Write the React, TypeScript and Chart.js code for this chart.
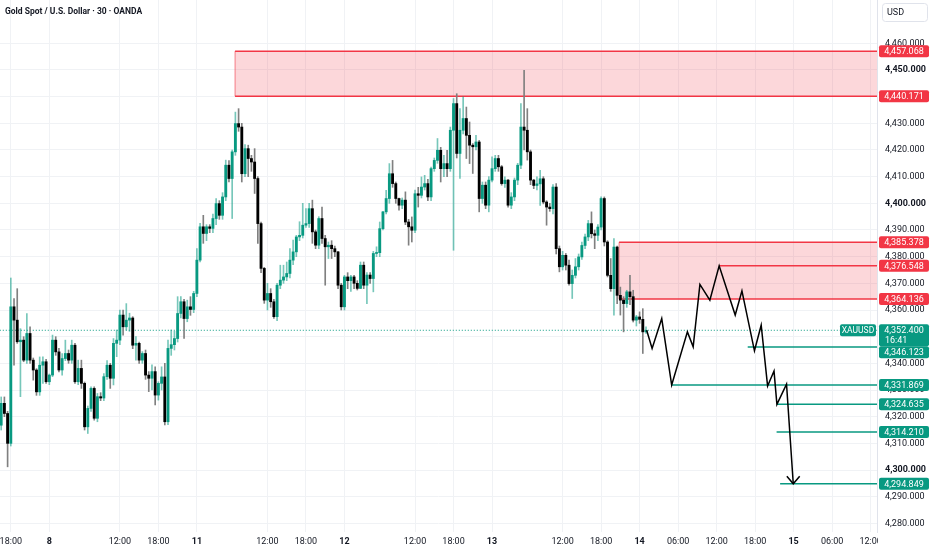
import React, { useEffect, useRef } from "react";
import { Chart, registerables } from "chart.js";

Chart.register(...registerables);

// ---------- data ----------
const TITLE = "Gold Spot / U.S. Dollar · 30 · OANDA";
const SYMBOL = "XAUUSD";
const CURRENCY = "USD";
const COUNTDOWN = "16:41";
const LAST_PRICE = 4352.4;

// first candle sits on half-hour slot -15 (slot 0 = first bar of day "8")
const FIRST_SLOT = -15;

const OPEN = [
  4316.8, 4325.0, 4321.2, 4310.0, 4361.2, 4356.2, 4348.1, 4348.7, 4341.2, 4351.2,
  4341.2, 4337.5, 4329.3, 4339.3, 4340.6, 4333.1, 4335.6, 4348.7, 4344.3, 4337.5,
  4341.8, 4343.7, 4341.2, 4346.8, 4333.1, 4338.1, 4332.5, 4316.2, 4323.1, 4330.6,
  4319.4, 4327.5, 4327.0, 4335.0, 4339.3, 4334.4, 4347.5, 4348.7, 4358.1, 4353.7,
  4356.2, 4357.0, 4346.8, 4347.5, 4341.2, 4343.7, 4335.6, 4334.4, 4336.9, 4328.1,
  4332.5, 4334.9, 4318.1, 4345.6, 4347.0, 4349.3, 4358.7, 4363.1, 4356.8, 4361.2,
  4360.2, 4366.2, 4378.7, 4391.2, 4388.7, 4391.2, 4390.6, 4394.3, 4399.9, 4395.5,
  4402.4, 4414.3, 4409.3, 4419.3, 4429.9, 4428.6, 4411.1, 4420.5, 4416.8, 4415.5,
  4409.3, 4392.4, 4375.6, 4363.7, 4366.2, 4363.1, 4357.5, 4369.3, 4371.2, 4372.4,
  4373.7, 4378.7, 4381.8, 4387.4, 4388.0, 4391.8, 4392.4, 4398.0, 4389.3, 4384.3,
  4394.3, 4386.8, 4383.7, 4384.3, 4383.0, 4381.8, 4369.3, 4361.2, 4372.4, 4371.0,
  4372.4, 4370.0, 4368.1, 4376.8, 4369.3, 4373.1, 4371.8, 4381.2, 4381.5, 4390.5,
  4396.8, 4401.8, 4411.1, 4407.4, 4401.8, 4399.3, 4401.2, 4393.0, 4391.2, 4389.9,
  4403.6, 4403.0, 4406.1, 4407.4, 4402.4, 4413.0, 4416.1, 4419.9, 4413.0, 4414.9,
  4413.0, 4427.4, 4437.4, 4418.7, 4427.4, 4431.8, 4425.5, 4421.8, 4421.2, 4423.0,
  4401.8, 4406.8, 4399.3, 4408.7, 4413.0, 4416.8, 4413.7, 4407.4, 4408.7, 4399.3,
  4402.4, 4408.7, 4414.3, 4428.6, 4427.4, 4419.3, 4408.7, 4406.7, 4407.3, 4409.2,
  4400.5, 4398.6, 4398.0, 4406.1, 4383.0, 4376.2, 4380.5, 4376.8, 4369.9, 4373.0,
  4376.2, 4379.9, 4384.2, 4387.4, 4392.4, 4388.6, 4388.0, 4391.1, 4401.8, 4385.5,
  4373.0, 4368.0, 4383.6, 4365.5, 4363.7, 4362.4, 4366.8, 4365.0, 4356.2, 4357.4,
  4356.5, 4351.8,
];
const HIGH = [
  4327.4, 4327.4, 4322.0, 4372.0, 4364.3, 4368.0, 4353.0, 4350.0, 4358.7, 4353.7,
  4342.0, 4338.0, 4342.4, 4342.4, 4341.5, 4336.0, 4350.6, 4350.0, 4345.6, 4343.7,
  4348.7, 4345.0, 4348.7, 4347.5, 4341.2, 4341.2, 4333.0, 4324.0, 4331.2, 4331.2,
  4328.7, 4329.0, 4336.2, 4341.0, 4340.0, 4349.3, 4352.5, 4360.0, 4360.0, 4362.4,
  4358.8, 4357.5, 4350.0, 4348.0, 4344.4, 4345.0, 4336.9, 4339.4, 4338.7, 4333.1,
  4338.7, 4340.0, 4348.7, 4352.5, 4352.0, 4365.0, 4365.0, 4364.0, 4363.7, 4365.0,
  4367.0, 4383.0, 4392.5, 4395.5, 4392.0, 4392.0, 4396.0, 4401.8, 4401.0, 4404.0,
  4416.2, 4416.0, 4420.0, 4434.2, 4435.5, 4430.0, 4422.0, 4421.8, 4418.0, 4420.5,
  4410.0, 4393.0, 4376.0, 4370.0, 4368.0, 4364.0, 4370.0, 4376.8, 4376.8, 4378.0,
  4383.0, 4386.2, 4388.0, 4393.1, 4400.0, 4398.0, 4400.0, 4401.2, 4390.0, 4395.0,
  4398.6, 4388.0, 4385.5, 4386.0, 4384.0, 4382.0, 4370.0, 4373.0, 4374.0, 4373.0,
  4373.0, 4371.0, 4378.0, 4378.0, 4374.0, 4374.0, 4382.0, 4383.7, 4393.0, 4397.0,
  4404.9, 4414.9, 4416.1, 4408.0, 4402.0, 4402.0, 4404.3, 4394.0, 4394.9, 4405.0,
  4406.0, 4409.9, 4410.5, 4409.0, 4413.6, 4417.0, 4424.3, 4421.0, 4418.0, 4419.9,
  4428.6, 4439.3, 4441.1, 4435.5, 4439.9, 4436.1, 4430.5, 4422.4, 4425.5, 4423.6,
  4408.0, 4408.0, 4410.0, 4417.4, 4418.0, 4418.0, 4414.2, 4409.9, 4409.0, 4404.0,
  4409.5, 4415.0, 4437.4, 4449.9, 4435.5, 4420.0, 4409.0, 4409.9, 4412.4, 4410.0,
  4401.0, 4400.0, 4407.0, 4407.4, 4384.0, 4382.0, 4381.2, 4378.7, 4375.0, 4379.3,
  4381.0, 4385.5, 4388.5, 4393.6, 4396.8, 4390.0, 4392.0, 4402.4, 4402.4, 4386.0,
  4379.3, 4386.8, 4384.0, 4368.6, 4365.0, 4367.4, 4373.0, 4367.4, 4358.0, 4359.3,
  4360.5, 4353.7,
];
const LOW = [
  4315.0, 4320.0, 4301.2, 4309.0, 4339.3, 4347.5, 4327.5, 4340.6, 4340.0, 4340.0,
  4333.7, 4328.0, 4328.0, 4332.5, 4332.5, 4332.0, 4335.0, 4343.0, 4336.8, 4335.6,
  4341.0, 4340.0, 4340.0, 4332.5, 4332.0, 4330.6, 4315.0, 4313.7, 4322.0, 4318.7,
  4318.1, 4326.0, 4326.0, 4334.0, 4330.6, 4331.9, 4342.5, 4347.0, 4350.6, 4352.5,
  4352.0, 4345.5, 4341.2, 4340.0, 4340.0, 4334.0, 4329.4, 4330.0, 4324.4, 4326.2,
  4330.0, 4316.9, 4317.0, 4343.0, 4345.0, 4348.0, 4357.0, 4349.3, 4355.6, 4358.0,
  4359.0, 4365.0, 4378.0, 4385.0, 4386.0, 4389.0, 4389.0, 4392.0, 4394.0, 4394.0,
  4401.0, 4408.0, 4394.3, 4418.0, 4427.0, 4408.0, 4410.0, 4410.0, 4412.0, 4403.7,
  4385.0, 4374.0, 4362.5, 4360.0, 4361.0, 4356.8, 4356.0, 4368.0, 4370.0, 4371.0,
  4372.0, 4377.0, 4380.0, 4386.0, 4387.0, 4391.0, 4391.0, 4385.0, 4383.0, 4383.0,
  4385.0, 4369.3, 4379.3, 4379.3, 4380.0, 4368.0, 4360.0, 4360.0, 4368.0, 4367.0,
  4368.0, 4367.5, 4368.0, 4368.0, 4362.4, 4370.0, 4366.8, 4380.0, 4380.0, 4390.0,
  4396.0, 4400.0, 4406.0, 4400.0, 4397.4, 4398.0, 4392.0, 4384.3, 4385.5, 4389.0,
  4398.6, 4402.0, 4405.0, 4401.0, 4401.0, 4412.0, 4415.0, 4408.0, 4410.0, 4410.0,
  4412.0, 4382.4, 4417.0, 4409.3, 4426.0, 4416.8, 4414.9, 4411.2, 4420.0, 4396.8,
  4400.0, 4398.0, 4396.8, 4408.0, 4412.0, 4412.0, 4406.8, 4406.0, 4398.6, 4398.0,
  4401.0, 4407.0, 4413.0, 4420.0, 4416.2, 4407.0, 4405.5, 4405.0, 4399.2, 4399.8,
  4391.8, 4397.0, 4396.0, 4381.0, 4374.3, 4375.0, 4375.0, 4369.3, 4364.3, 4372.0,
  4375.0, 4379.0, 4383.0, 4386.0, 4387.0, 4383.0, 4386.0, 4390.0, 4384.0, 4372.4,
  4367.0, 4358.1, 4362.4, 4358.1, 4351.8, 4361.0, 4362.0, 4355.5, 4354.0, 4355.0,
  4343.7, 4351.2,
];
const CLOSE = [
  4325.0, 4321.2, 4310.0, 4361.2, 4356.2, 4348.1, 4348.7, 4341.2, 4351.2, 4341.2,
  4337.5, 4329.3, 4339.3, 4340.6, 4333.1, 4335.6, 4348.7, 4344.3, 4337.5, 4341.8,
  4343.7, 4341.2, 4346.8, 4333.1, 4338.1, 4332.5, 4316.2, 4323.1, 4330.6, 4319.4,
  4327.5, 4327.0, 4335.0, 4339.3, 4334.4, 4347.5, 4348.7, 4358.1, 4353.7, 4356.2,
  4357.0, 4346.8, 4347.5, 4341.2, 4343.7, 4335.6, 4334.4, 4336.9, 4328.1, 4332.5,
  4334.9, 4318.1, 4345.6, 4347.0, 4349.3, 4358.7, 4363.1, 4356.8, 4361.2, 4360.2,
  4366.2, 4378.7, 4391.2, 4388.7, 4391.2, 4390.6, 4394.3, 4399.9, 4395.5, 4402.4,
  4414.3, 4409.3, 4419.3, 4429.9, 4428.6, 4411.1, 4420.5, 4416.8, 4415.5, 4409.3,
  4392.4, 4375.6, 4363.7, 4366.2, 4363.1, 4357.5, 4369.3, 4371.2, 4372.4, 4373.7,
  4378.7, 4381.8, 4387.4, 4388.0, 4391.8, 4392.4, 4398.0, 4389.3, 4384.3, 4394.3,
  4386.8, 4383.7, 4384.3, 4383.0, 4381.8, 4369.3, 4361.2, 4372.4, 4371.0, 4372.4,
  4370.0, 4368.1, 4376.8, 4369.3, 4373.1, 4371.8, 4381.2, 4381.5, 4390.5, 4396.8,
  4401.8, 4411.1, 4407.4, 4401.8, 4399.3, 4401.2, 4393.0, 4391.2, 4389.9, 4403.6,
  4403.0, 4406.1, 4407.4, 4402.4, 4413.0, 4416.1, 4419.9, 4413.0, 4414.9, 4413.0,
  4427.4, 4437.4, 4418.7, 4427.4, 4431.8, 4425.5, 4421.8, 4421.2, 4423.0, 4401.8,
  4406.8, 4399.3, 4408.7, 4413.0, 4416.8, 4413.7, 4407.4, 4408.7, 4399.3, 4402.4,
  4408.7, 4414.3, 4428.6, 4427.4, 4419.3, 4408.7, 4406.7, 4407.3, 4409.2, 4400.5,
  4398.6, 4398.0, 4406.1, 4383.0, 4376.2, 4380.5, 4376.8, 4369.9, 4373.0, 4376.2,
  4379.9, 4384.2, 4387.4, 4392.4, 4388.6, 4388.0, 4391.1, 4401.8, 4385.5, 4373.0,
  4368.0, 4383.6, 4365.5, 4363.7, 4362.4, 4366.8, 4365.0, 4356.2, 4357.4, 4356.5,
  4351.8, 4352.4,
];

// time axis (half-hour slots)
const X_TICK_SLOTS = [-12, 0, 22, 34, 46, 68, 80, 92, 114, 126, 138, 160, 172, 184, 196, 208, 220, 232, 244, 256];
const X_TICK_LABELS = ["18:00", "8", "12:00", "18:00", "11", "12:00", "18:00", "12", "12:00", "18:00", "13", "12:00", "18:00", "14", "06:00", "12:00", "18:00", "15", "06:00", "12:00"];
const DAY_LABELS = ["8", "11", "12", "13", "14", "15"];

// price axis ticks
const Y_TICKS = [4280, 4290, 4300, 4310, 4320, 4330, 4340, 4350, 4360, 4370, 4380, 4390, 4400, 4410, 4420, 4430, 4440, 4450, 4460];

// supply zones (rectangles)
const ZONE_START = [57.9, 177.6];
const ZONE_TOP = [4457.068, 4385.378];
const ZONE_BOTTOM = [4440.171, 4364.136];

// horizontal levels
const LEVEL_PRICE = [4376.548, 4346.123, 4331.869, 4324.635, 4314.21, 4294.849];
const LEVEL_START = [208.8, 217.7, 194.0, 226.8, 226.7, 227.8];
const LEVEL_KIND = ["resistance", "support", "support", "support", "support", "support"];

// projected path
const PATH_SLOT = [186.2, 187.9, 190.9, 194.0, 198.9, 200.7, 202.8, 205.9, 208.8, 213.8, 215.9, 219.8, 221.9, 223.9, 225.9, 226.8, 229.8, 231.9];
const PATH_PRICE = [4352.4, 4345.6, 4356.8, 4331.869, 4351.8, 4346.2, 4369.6, 4363.7, 4376.548, 4358.1, 4367.2, 4344.7, 4354.3, 4331.5, 4337.1, 4324.635, 4332.2, 4294.849];
const ARROW_SLOT = [229.9, 231.9, 233.9];
const ARROW_PRICE = [4297.7, 4294.849, 4297.7];

// ---------- style ----------
const FONT = "Roboto, 'Liberation Sans', Arial, sans-serif";
const UP = "#089981";
const DOWN = "#000000";
const UP_WICK = "rgba(8,153,129,0.55)";
const DOWN_WICK = "#808080";
const RED = "#f23645";
const ZONE_FILL = "rgba(242,54,69,0.2)";
const TEXT = "#131722";
const GRID = "#f0f2f5";
const X_MIN = -15.37;
const X_MAX = 258.0;
const X_END = 270;
const Y_MIN = 4276.76;
const Y_MAX = 4476.24;

function fmt(v: number) {
  return v.toLocaleString("en-US", { minimumFractionDigits: 3, maximumFractionDigits: 3 });
}

const overlayPlugin = {
  id: "overlay",
  afterDraw(chart: any) {
    const { ctx, chartArea, scales } = chart;
    const ys = scales.y;
    ctx.save();
    // time labels are clipped where the price scale starts
    ctx.fillStyle = "#ffffff";
    ctx.fillRect(chartArea.right + 1, chartArea.bottom + 1, chart.width - chartArea.right, chart.height - chartArea.bottom);

    // title
    ctx.fillStyle = TEXT;
    ctx.font = `bold 8.5px ${FONT}`;
    ctx.textAlign = "left";
    ctx.textBaseline = "middle";
    ctx.fillText(TITLE, 5, 11.5);

    // currency box
    ctx.beginPath();
    ctx.roundRect(882.5, 3.5, 45, 18, 3);
    ctx.fillStyle = "#ffffff";
    ctx.fill();
    ctx.strokeStyle = "#e0e3eb";
    ctx.lineWidth = 1;
    ctx.stroke();
    ctx.fillStyle = TEXT;
    ctx.font = `9px ${FONT}`;
    ctx.fillText(CURRENCY, 887, 12.5);

    // symbol tag
    const ly = ys.getPixelForValue(LAST_PRICE);
    ctx.beginPath();
    ctx.roundRect(chartArea.right - 37, ly - 6, 36, 12, 2);
    ctx.fillStyle = UP;
    ctx.fill();
    ctx.fillStyle = "#ffffff";
    ctx.font = `8.5px ${FONT}`;
    ctx.textAlign = "center";
    ctx.fillText(SYMBOL, chartArea.right - 19, ly + 0.5);

    // price tags on axis
    const tags: { v: number; c: string; last?: boolean }[] = [];
    ZONE_TOP.forEach((v) => tags.push({ v, c: RED }));
    ZONE_BOTTOM.forEach((v) => tags.push({ v, c: RED }));
    LEVEL_PRICE.forEach((v, i) => tags.push({ v, c: LEVEL_KIND[i] === "resistance" ? RED : UP }));
    tags.push({ v: LAST_PRICE, c: UP, last: true });
    tags.sort((a, b) => b.v - a.v);
    let prevBottom = -Infinity;
    ctx.font = `9px ${FONT}`;
    for (const t of tags) {
      const py = ys.getPixelForValue(t.v);
      const h = t.last ? 22 : 12;
      const top = Math.max(py - 6, prevBottom);
      prevBottom = top + h;
      ctx.beginPath();
      ctx.roundRect(chartArea.right + 2, top, 50, h, 2);
      ctx.fillStyle = t.c;
      ctx.fill();
      ctx.fillStyle = "#ffffff";
      ctx.textAlign = "center";
      ctx.fillText(fmt(t.v), chartArea.right + 27, top + 6.5);
      if (t.last) {
        ctx.textAlign = "left";
        ctx.fillText(COUNTDOWN, chartArea.right + 8, top + 16.5);
      }
    }
    ctx.restore();
  },
};

export default function App() {
  const ref = useRef<HTMLCanvasElement | null>(null);
  useEffect(() => {
    if (!ref.current) return;
    const slots = CLOSE.map((_, i) => FIRST_SLOT + i);
    const up = CLOSE.map((c, i) => c >= OPEN[i]);

    const datasets: any[] = [];
    // zones
    ZONE_START.forEach((s, i) => {
      datasets.push({
        type: "line",
        data: [{ x: s, y: ZONE_TOP[i] }, { x: X_END, y: ZONE_TOP[i] }],
        borderColor: RED,
        borderWidth: 1.5,
        pointRadius: 0,
        fill: "+1",
        backgroundColor: ZONE_FILL,
        order: 20,
      });
      datasets.push({
        type: "line",
        data: [{ x: s, y: ZONE_BOTTOM[i] }, { x: X_END, y: ZONE_BOTTOM[i] }],
        borderColor: RED,
        borderWidth: 1.5,
        pointRadius: 0,
        fill: false,
        order: 20,
      });
      datasets.push({
        type: "line",
        data: [{ x: s, y: ZONE_BOTTOM[i] }, { x: s, y: ZONE_TOP[i] }],
        borderColor: "rgba(242,54,69,0.6)",
        borderWidth: 1,
        pointRadius: 0,
        fill: false,
        order: 20,
      });
    });
    // last price dotted line
    datasets.push({
      type: "line",
      data: [{ x: X_MIN - 1, y: LAST_PRICE }, { x: X_END, y: LAST_PRICE }],
      borderColor: UP,
      borderWidth: 1,
      borderDash: [1, 2],
      pointRadius: 0,
      fill: false,
      order: 15,
    });
    // wicks
    datasets.push({
      type: "bar",
      data: slots.map((x, i) => ({ x, y: [LOW[i], HIGH[i]] })),
      backgroundColor: up.map((u) => (u ? UP_WICK : DOWN_WICK)),
      barThickness: 1,
      grouped: false,
      borderWidth: 0,
      order: 11,
    });
    // bodies
    datasets.push({
      type: "bar",
      data: slots.map((x, i) => ({ x, y: [Math.min(OPEN[i], CLOSE[i]), Math.max(OPEN[i], CLOSE[i])] })),
      backgroundColor: up.map((u) => (u ? UP : DOWN)),
      barThickness: 2.2,
      minBarLength: 1,
      grouped: false,
      borderWidth: 0,
      order: 10,
    });
    // levels
    LEVEL_PRICE.forEach((p, i) => {
      datasets.push({
        type: "line",
        data: [{ x: LEVEL_START[i], y: p }, { x: X_END, y: p }],
        borderColor: LEVEL_KIND[i] === "resistance" ? RED : UP,
        borderWidth: 1.5,
        pointRadius: 0,
        fill: false,
        order: 2,
      });
    });
    // path
    datasets.push({
      type: "line",
      data: PATH_SLOT.map((x, i) => ({ x, y: PATH_PRICE[i] })),
      borderColor: "#000000",
      borderWidth: 1.5,
      pointRadius: 0,
      fill: false,
      tension: 0,
      order: 1,
    });
    datasets.push({
      type: "line",
      data: ARROW_SLOT.map((x, i) => ({ x, y: ARROW_PRICE[i] })),
      borderColor: "#000000",
      borderWidth: 1.5,
      pointRadius: 0,
      fill: false,
      tension: 0,
      order: 1,
    });

    const chart = new Chart(ref.current, {
      type: "line",
      data: { datasets },
      options: {
        responsive: false,
        animation: false,
        layout: { padding: 0 },
        plugins: { legend: { display: false }, tooltip: { enabled: false }, title: { display: false } },
        scales: {
          x: {
            type: "linear",
            min: X_MIN,
            max: X_MAX,
            offset: false,
            grid: { color: GRID, offset: false, drawTicks: false },
            border: { display: false },
            afterBuildTicks: (s: any) => {
              s.ticks = X_TICK_SLOTS.map((v) => ({ value: v }));
            },
            afterFit: (s: any) => {
              s.height = 18;
              s.paddingLeft = 0;
              s.paddingRight = 0;
            },
            ticks: {
              autoSkip: false,
              maxRotation: 0,
              padding: 4,
              color: TEXT,
              callback: (v: any) => {
                const k = X_TICK_SLOTS.indexOf(Number(v));
                return k >= 0 ? X_TICK_LABELS[k] : "";
              },
              font: (c: any) => ({
                family: FONT,
                size: 9,
                weight: c.tick && DAY_LABELS.includes(c.tick.label) ? "bold" : "normal",
              }),
            },
          },
          y: {
            type: "linear",
            position: "right",
            min: Y_MIN,
            max: Y_MAX,
            grid: { color: GRID, drawTicks: false },
            border: { display: true, color: "#e0e3eb" },
            afterBuildTicks: (s: any) => {
              s.ticks = Y_TICKS.map((v) => ({ value: v }));
            },
            afterFit: (s: any) => {
              s.width = 55;
              s.paddingTop = 0;
              s.paddingBottom = 0;
            },
            ticks: {
              padding: 8,
              color: TEXT,
              callback: (v: any) => fmt(Number(v)),
              font: (c: any) => ({
                family: FONT,
                size: 9,
                weight: c.tick && c.tick.value % 50 === 0 ? "bold" : "normal",
              }),
            },
          },
        },
      },
      plugins: [overlayPlugin],
    } as any);
    return () => chart.destroy();
  }, []);

  return (
    <div style={{ position: "absolute", left: 0, top: 0, width: 932, height: 550, background: "#ffffff" }}>
      <canvas ref={ref} width={932} height={550} style={{ display: "block" }} />
    </div>
  );
}
